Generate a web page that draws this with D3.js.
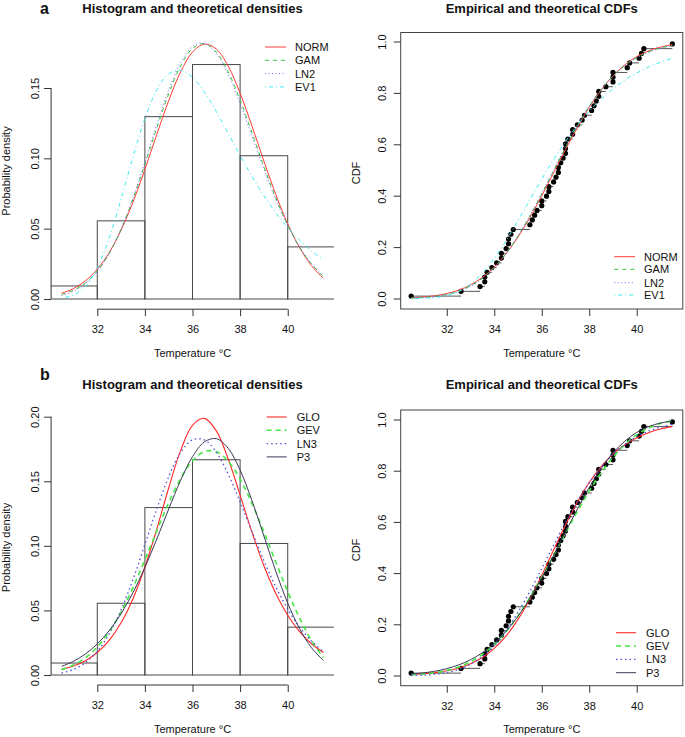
<!DOCTYPE html>
<html><head><meta charset="utf-8">
<script src="https://cdn.jsdelivr.net/npm/d3@7"></script>
<style>
body{margin:0;background:#fff}
svg text{font-family:"Liberation Sans",Arial,Helvetica,sans-serif;fill:#111}
</style>
</head><body>
<svg id="chart" width="685" height="737"></svg>
<script>
// ---------------- data ----------------
const temps = [30.5,32.6,33.4,33.6,33.6,33.7,33.9,34.1,34.3,34.3,34.5,34.6,34.6,34.7,34.8,35.5,35.6,35.7,35.8,36.0,36.0,36.2,36.3,36.3,36.5,36.6,36.7,36.7,36.8,36.9,37.0,37.0,37.0,37.1,37.3,37.3,37.5,37.7,37.8,38.1,38.2,38.3,38.4,38.4,38.7,39.0,39.0,39.0,39.6,39.7,40.1,40.2,40.3,41.5];
const ecdfProb = [0.0093,0.0278,0.0463,0.0648,0.0833,0.1019,0.1204,0.1389,0.1574,0.1759,0.1944,0.2130,0.2315,0.2500,0.2685,0.2870,0.3056,0.3241,0.3426,0.3611,0.3796,0.3981,0.4167,0.4352,0.4537,0.4722,0.4907,0.5093,0.5278,0.5463,0.5648,0.5833,0.6019,0.6204,0.6389,0.6574,0.6759,0.6944,0.7130,0.7315,0.7500,0.7685,0.7870,0.8056,0.8241,0.8426,0.8611,0.8796,0.8981,0.9167,0.9352,0.9537,0.9722,0.9907];
const histBreaks = [30,32,34,36,38,40,42];
const histDensity = [0.00926,0.05556,0.12963,0.16667,0.10185,0.03704];
const gridX = [30.5,31,31.5,32,32.5,33,33.5,34,34.5,35,35.5,36,36.5,37,37.5,38,38.5,39,39.5,40,40.5,41,41.5];

const densNORM = [0.0041,0.0074,0.0129,0.0212,0.0330,0.0490,0.0689,0.0921,0.1170,0.1410,0.1614,0.1755,0.1812,0.1777,0.1655,0.1464,0.1229,0.0980,0.0742,0.0534,0.0365,0.0237,0.0146];
const densGAM  = [0.0031,0.0062,0.0115,0.0200,0.0325,0.0496,0.0710,0.0957,0.1216,0.1460,0.1657,0.1781,0.1815,0.1756,0.1615,0.1414,0.1181,0.0942,0.0718,0.0525,0.0367,0.0247,0.0159];
const densLN2  = [0.0025,0.0055,0.0108,0.0195,0.0323,0.0499,0.0720,0.0974,0.1239,0.1485,0.1679,0.1795,0.1817,0.1746,0.1595,0.1390,0.1157,0.0922,0.0706,0.0520,0.0369,0.0252,0.0166];
const densEV1  = [0.0006,0.0028,0.0090,0.0221,0.0433,0.0710,0.1010,0.1283,0.1486,0.1601,0.1626,0.1576,0.1471,0.1332,0.1177,0.1021,0.0871,0.0734,0.0613,0.0507,0.0417,0.0341,0.0278];
const cdfNORM  = [0.0029,0.0058,0.0107,0.0191,0.0325,0.0528,0.0821,0.1222,0.1746,0.2392,0.3149,0.3996,0.4891,0.5793,0.6654,0.7436,0.8111,0.8663,0.9092,0.9411,0.9634,0.9782,0.9876];
const cdfGAM   = [0.0018,0.0040,0.0083,0.0160,0.0290,0.0493,0.0793,0.1208,0.1752,0.2423,0.3204,0.4068,0.4971,0.5868,0.6714,0.7473,0.8123,0.8653,0.9066,0.9377,0.9599,0.9750,0.9850];
const cdfLN2   = [0.0012,0.0031,0.0071,0.0145,0.0273,0.0476,0.0779,0.1200,0.1756,0.2438,0.3231,0.4104,0.5011,0.5906,0.6743,0.7491,0.8129,0.8648,0.9054,0.9360,0.9581,0.9734,0.9837];
const cdfEV1   = [0.0002,0.0009,0.0036,0.0111,0.0271,0.0555,0.0985,0.1560,0.2256,0.3031,0.3842,0.4645,0.5408,0.6110,0.6738,0.7287,0.7759,0.8160,0.8496,0.8776,0.9006,0.9195,0.9349];

const densGLO  = [0.0043,0.0069,0.0111,0.0174,0.0268,0.0404,0.0591,0.0836,0.1130,0.1448,0.1737,0.1933,0.1987,0.1890,0.1673,0.1393,0.1105,0.0846,0.0631,0.0463,0.0336,0.0242,0.0174];
const densGEV  = [0.0042,0.0077,0.0133,0.0217,0.0335,0.0489,0.0677,0.0891,0.1116,0.1333,0.1520,0.1658,0.1730,0.1729,0.1655,0.1517,0.1328,0.1107,0.0873,0.0646,0.0440,0.0267,0.0134];
const densLN3  = [0.0015,0.0043,0.0095,0.0183,0.0318,0.0505,0.0740,0.1010,0.1286,0.1535,0.1722,0.1821,0.1820,0.1725,0.1555,0.1340,0.1109,0.0884,0.0682,0.0511,0.0371,0.0262,0.0179];
const densP3   = [0.0067,0.0106,0.0163,0.0240,0.0343,0.0475,0.0638,0.0833,0.1053,0.1285,0.1507,0.1690,0.1805,0.1830,0.1755,0.1587,0.1349,0.1076,0.0803,0.0557,0.0358,0.0211,0.0112];
const cdfGLO   = [0.0041,0.0069,0.0113,0.0183,0.0292,0.0458,0.0704,0.1059,0.1548,0.2194,0.2992,0.3914,0.4901,0.5876,0.6770,0.7538,0.8163,0.8648,0.9015,0.9286,0.9484,0.9627,0.9730];
const cdfGEV   = [0.0029,0.0057,0.0109,0.0195,0.0331,0.0536,0.0826,0.1217,0.1719,0.2331,0.3047,0.3844,0.4693,0.5561,0.6410,0.7206,0.7919,0.8528,0.9023,0.9402,0.9673,0.9848,0.9946];
const cdfLN3   = [0.0003,0.0013,0.0046,0.0114,0.0238,0.0441,0.0750,0.1186,0.1762,0.2469,0.3285,0.4177,0.5090,0.5981,0.6803,0.7528,0.8141,0.8638,0.9028,0.9326,0.9545,0.9702,0.9811];
const cdfP3    = [0.0059,0.0102,0.0168,0.0268,0.0413,0.0616,0.0892,0.1258,0.1730,0.2315,0.3013,0.3815,0.4692,0.5605,0.6505,0.7344,0.8081,0.8688,0.9156,0.9496,0.9723,0.9862,0.9941];

const xTicks = [32,34,36,38,40];
const densTicksA = [0,0.05,0.10,0.15];
const densTicksB = [0,0.05,0.10,0.15,0.20];
const cdfTicks = [0,0.2,0.4,0.6,0.8,1.0];
const namesA = ["NORM","GAM","LN2","EV1"];
const namesB = ["GLO","GEV","LN3","P3"];

// ---------------- styles ----------------
const stylesA = [
  {color:"#ff3a3a", dash:null, w:1},
  {color:"#34c034", dash:"4,4", w:1},
  {color:"#6a6aff", dash:"1,2.5", w:1},
  {color:"#3ae8ee", dash:"1,3,4,3", w:1}
];
const stylesB = [
  {color:"#ff2a2a", dash:null, w:1.1},
  {color:"#44e844", dash:"5,4", w:1.6},
  {color:"#5050dc", dash:"1.5,3", w:1.3},
  {color:"#3a3a58", dash:null, w:1}
];

const svg = d3.select("#chart");
const xLim = [30.06, 41.94];
const AX = "#333";

function styleAxis(g){
  g.selectAll(".tick line").attr("stroke",AX);
  g.selectAll(".tick text").attr("font-size",11).attr("fill","#111")
   .style("font-family",'"Liberation Sans",Arial,sans-serif');
}

function curvePath(x,y){
  return d3.line().x((d,i)=>x(gridX[i])).y(d=>y(d)).curve(d3.curveCatmullRom);
}

function addSeries(pg, x, y, arrays, styles){
  arrays.forEach((arr,k)=>{
    const s = styles[k];
    pg.append("path").datum(arr).attr("d",curvePath(x,y))
      .attr("fill","none").attr("stroke",s.color).attr("stroke-width",s.w)
      .attr("stroke-dasharray",s.dash);
  });
}

function legend(names, styles, lx1, lx2, tx, ys){
  const g = svg.append("g");
  names.forEach((n,k)=>{
    const s = styles[k];
    g.append("line").attr("x1",lx1).attr("x2",lx2).attr("y1",ys[k]).attr("y2",ys[k])
      .attr("stroke",s.color).attr("stroke-width",s.w).attr("stroke-dasharray",s.dash);
    g.append("text").attr("x",tx).attr("y",ys[k]+4).attr("font-size",11).text(n);
  });
}

function drawDensity(c){
  const x = d3.scaleLinear().domain(xLim).range([c.L,c.R]);
  const y = d3.scaleLinear().domain(c.yDom).range(c.yRng);
  svg.append("clipPath").attr("id",c.id).append("rect")
    .attr("x",c.L).attr("y",c.T).attr("width",c.R-c.L).attr("height",c.B-c.T);
  const pg = svg.append("g").attr("clip-path",`url(#${c.id})`);
  pg.selectAll("rect.bar").data(histDensity).join("rect").attr("class","bar")
    .attr("x",(d,i)=>x(histBreaks[i])).attr("width",(d,i)=>x(histBreaks[i+1])-x(histBreaks[i]))
    .attr("y",d=>y(d)).attr("height",d=>y(0)-y(d))
    .attr("fill","none").attr("stroke","#484848").attr("stroke-width",1);
  addSeries(pg,x,y,c.series,c.styles);

  const ya = svg.append("g").attr("transform",`translate(${c.L},0)`)
    .call(d3.axisLeft(y).tickValues(c.yTicks).tickFormat(d3.format(".2f")).tickSize(7).tickSizeOuter(0));
  ya.select(".domain").remove();
  ya.append("line").attr("x1",0).attr("x2",0).attr("y1",y(c.yTicks[0])).attr("y2",y(c.yTicks[c.yTicks.length-1])).attr("stroke",AX);
  styleAxis(ya);
  ya.selectAll(".tick text").attr("x",null).attr("dy",null).attr("text-anchor","middle")
    .attr("transform",`translate(${-(c.L-38.5)},0) rotate(-90)`);
  const xa = svg.append("g").attr("transform",`translate(0,${c.B})`)
    .call(d3.axisBottom(x).tickValues(xTicks).tickFormat(d3.format("d")).tickSize(7).tickPadding(9.5).tickSizeOuter(0));
  xa.select(".domain").remove();
  xa.append("line").attr("x1",x(xTicks[0])).attr("x2",x(xTicks[xTicks.length-1])).attr("y1",0).attr("y2",0).attr("stroke",AX);
  styleAxis(xa);

  svg.append("text").attr("x",(c.L+c.R)/2).attr("y",c.titleY).attr("text-anchor","middle")
    .attr("font-size",13).attr("font-weight","bold").text("Histogram and theoretical densities");
  svg.append("text").attr("x",(c.L+c.R)/2).attr("y",c.xlabY).attr("text-anchor","middle")
    .attr("font-size",11).text("Temperature °C");
  svg.append("text").attr("transform",`translate(10,${c.ylabY}) rotate(-90)`).attr("text-anchor","middle")
    .attr("font-size",11).text("Probability density");
}

function drawCdf(c){
  const x = d3.scaleLinear().domain(xLim).range([c.L,c.R]);
  const y = d3.scaleLinear().domain([0,1]).range(c.yRng);
  svg.append("clipPath").attr("id",c.id).append("rect")
    .attr("x",c.L).attr("y",c.T).attr("width",c.R-c.L).attr("height",c.B-c.T);
  const pg = svg.append("g").attr("clip-path",`url(#${c.id})`);
  pg.selectAll("line.step").data(temps.slice(0,-1)).join("line").attr("class","step")
    .attr("x1",d=>x(d)).attr("x2",(d,i)=>x(temps[i+1]))
    .attr("y1",(d,i)=>y(ecdfProb[i])).attr("y2",(d,i)=>y(ecdfProb[i]))
    .attr("stroke","#555").attr("stroke-width",1);
  pg.selectAll("circle.pt").data(temps).join("circle").attr("class","pt")
    .attr("cx",d=>x(d)).attr("cy",(d,i)=>y(ecdfProb[i])).attr("r",2.6).attr("fill","#000");
  addSeries(pg,x,y,c.series,c.styles);
  svg.append("rect").attr("x",c.L).attr("y",c.T).attr("width",c.R-c.L).attr("height",c.B-c.T)
    .attr("fill","none").attr("stroke","#444").attr("stroke-width",1);
  const ya = svg.append("g").attr("transform",`translate(${c.L},0)`)
    .call(d3.axisLeft(y).tickValues(cdfTicks).tickFormat(d3.format(".1f")).tickSize(7).tickSizeOuter(0));
  ya.select(".domain").remove();
  styleAxis(ya);
  ya.selectAll(".tick text").attr("x",null).attr("dy",null).attr("text-anchor","middle")
    .attr("transform",`translate(${-(c.L-385.5)},0) rotate(-90)`);
  const xa = svg.append("g").attr("transform",`translate(0,${c.B})`)
    .call(d3.axisBottom(x).tickValues(xTicks).tickFormat(d3.format("d")).tickSize(7).tickPadding(9.5).tickSizeOuter(0));
  xa.select(".domain").remove();
  styleAxis(xa);

  svg.append("text").attr("x",(c.L+c.R)/2).attr("y",c.titleY).attr("text-anchor","middle")
    .attr("font-size",13).attr("font-weight","bold").text("Empirical and theoretical CDFs");
  svg.append("text").attr("x",(c.L+c.R)/2).attr("y",c.xlabY).attr("text-anchor","middle")
    .attr("font-size",11).text("Temperature °C");
  svg.append("text").attr("transform",`translate(359.5,${c.ylabY}) rotate(-90)`).attr("text-anchor","middle")
    .attr("font-size",11).text("CDF");
}

// ---------------- panels ----------------
drawDensity({id:"cdA", L:51.1, R:333.9, T:33, B:309.2, yDom:[0,0.15], yRng:[299,88], yTicks:densTicksA,
  series:[densNORM,densGAM,densLN2,densEV1], styles:stylesA, titleY:12.5, xlabY:357, ylabY:171});
drawCdf({id:"ccA", L:400.7, R:682.8, T:32.5, B:309, yRng:[298.5,41.5],
  series:[cdfNORM,cdfGAM,cdfLN2,cdfEV1], styles:stylesA, titleY:12.5, xlabY:357, ylabY:173});
drawDensity({id:"cdB", L:51.1, R:333.9, T:410.3, B:685, yDom:[0,0.20], yRng:[675,416.7], yTicks:densTicksB,
  series:[densGLO,densGEV,densLN3,densP3], styles:stylesB, titleY:389, xlabY:733, ylabY:547.5});
drawCdf({id:"ccB", L:400.7, R:682.8, T:410, B:685.7, yRng:[675.5,419.5],
  series:[cdfGLO,cdfGEV,cdfLN3,cdfP3], styles:stylesB, titleY:389, xlabY:733, ylabY:550});

legend(namesA, stylesA, 265, 286, 295, [47,60.3,73.6,86.9]);
legend(namesA, stylesA, 614.3, 635, 644, [256.7,269.3,282.7,295]);
legend(namesB, stylesB, 266.7, 286.7, 296.7, [417,430.3,443.6,456.9]);
legend(namesB, stylesB, 616, 636, 646, [632.7,646,659.3,672.7]);

svg.append("text").attr("x",40).attr("y",13.5).attr("font-size",16).attr("font-weight","bold").text("a");
svg.append("text").attr("x",40).attr("y",380).attr("font-size",16).attr("font-weight","bold").text("b");
</script>
</body></html>
